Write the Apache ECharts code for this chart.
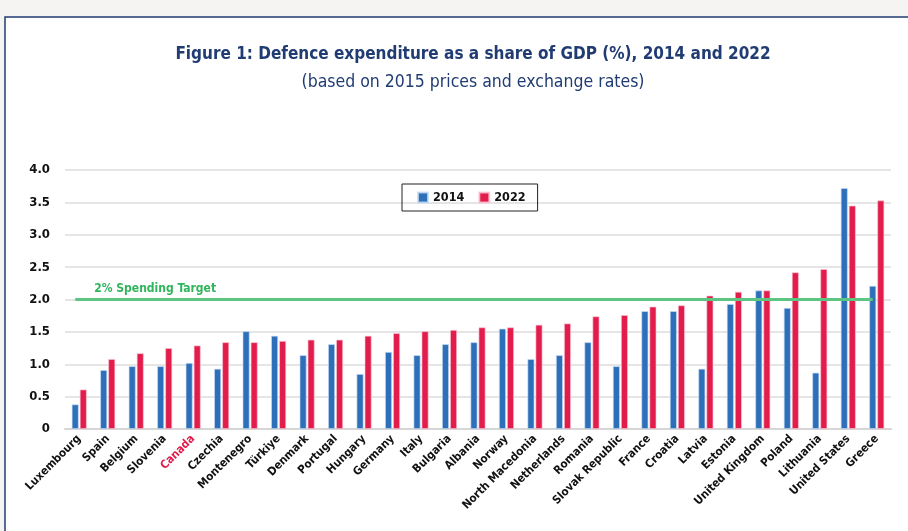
<!DOCTYPE html>
<html>
<head>
<meta charset="utf-8">
<script src="https://cdn.jsdelivr.net/npm/echarts@6/dist/echarts.min.js"></script>
<style>
  html, body { margin: 0; padding: 0; background: #f6f3f3; }
  #main { width: 908px; height: 531px; }
</style>
</head>
<body>
<div id="main"></div>
<script>
// countries, sorted by 2022 share
var countries = ['Luxembourg', 'Spain', 'Belgium', 'Slovenia', 'Canada', 'Czechia', 'Montenegro', 'Türkiye',
  'Denmark', 'Portugal', 'Hungary', 'Germany', 'Italy', 'Bulgaria', 'Albania', 'Norway', 'North Macedonia',
  'Netherlands', 'Romania', 'Slovak Republic', 'France', 'Croatia', 'Latvia', 'Estonia', 'United Kingdom',
  'Poland', 'Lithuania', 'United States', 'Greece'];
var share2014 = [0.38, 0.91, 0.97, 0.97, 1.02, 0.93, 1.51, 1.44, 1.14, 1.31, 0.85, 1.19, 1.14, 1.31, 1.34, 1.55,
  1.08, 1.14, 1.34, 0.97, 1.82, 1.82, 0.93, 1.93, 2.14, 1.87, 0.87, 3.72, 2.21];
var share2022 = [0.61, 1.08, 1.17, 1.25, 1.29, 1.34, 1.34, 1.36, 1.38, 1.38, 1.44, 1.48, 1.51, 1.53, 1.57, 1.57,
  1.61, 1.63, 1.74, 1.76, 1.89, 1.91, 2.06, 2.12, 2.14, 2.42, 2.47, 3.45, 3.53];
var targetValue = 2;
var highlight = 'Canada';

var FONT = '"DejaVu Sans Condensed", "Liberation Sans Narrow", sans-serif';
var BLUE = '#2d6fb8';
var RED = '#e21c4b';
var NAVY = '#203c72';

var myChart = echarts.init(document.getElementById('main'));
myChart.setOption({
  backgroundColor: '#f6f3f3',
  graphic: [
    // white framed panel
    { type: 'rect', shape: { x: 5, y: 17, width: 920, height: 530 },
      style: { fill: '#ffffff', stroke: NAVY, lineWidth: 1.5 }, z: -10 }
  ],
  title: [
    { text: 'Figure 1: Defence expenditure as a share of GDP (%), 2014 and 2022', left: 468, top: 41, textAlign: 'center',
      textStyle: { fontFamily: FONT, fontSize: 17, fontWeight: 'bold', color: NAVY } },
    { text: '(based on 2015 prices and exchange rates)', left: 468, top: 68, textAlign: 'center',
      textStyle: { fontFamily: FONT, fontSize: 17.5, fontWeight: 'normal', color: NAVY } }
  ],
  legend: {
    data: ['2014', '2022'],
    left: 402, top: 184,
    padding: [7, 12, 7, 15],
    itemWidth: 10, itemHeight: 10, itemGap: 14,
    borderColor: '#222', borderWidth: 1,
    icon: 'rect',
    textStyle: { fontFamily: FONT, fontSize: 12.5, fontWeight: 'bold', color: '#111' }
  },
  grid: { left: 65, right: 17, top: 170, bottom: 102 },
  xAxis: {
    type: 'category',
    data: countries,
    axisTick: { show: false },
    axisLine: { lineStyle: { color: '#d6d6d6', width: 2 } },
    axisLabel: {
      interval: 0, rotate: 45, margin: 8,
      fontFamily: FONT, fontSize: 11.5, fontWeight: 'bold', color: '#111',
      formatter: function (v) { return v === highlight ? '{hl|' + v + '}' : v; },
      rich: { hl: { color: RED, fontFamily: FONT, fontSize: 11.5, fontWeight: 'bold' } }
    }
  },
  yAxis: {
    type: 'value', min: 0, max: 4, interval: 0.5,
    axisLine: { show: false }, axisTick: { show: false },
    splitLine: { lineStyle: { color: '#dcdcdc', width: 1.5 } },
    axisLabel: {
      margin: 15, fontFamily: FONT, fontSize: 13, fontWeight: 'bold', color: '#111',
      formatter: function (v) { return v === 0 ? '0' : v.toFixed(1); }
    }
  },
  series: [
    {
      name: '2014', type: 'bar', data: share2014,
      barWidth: 7, barGap: '15%',
      itemStyle: { color: BLUE, borderColor: 'rgba(200,220,245,0.8)', borderWidth: 0.8 },
      markLine: {
        symbol: 'none', silent: true,
        lineStyle: { color: '#5cc581', width: 3, type: 'solid' },
        label: {
          show: true, position: 'insideStartTop', distance: [19, 5],
          formatter: '2% Spending Target',
          fontFamily: FONT, fontSize: 12, fontWeight: 'bold', color: '#2fb45a'
        },
        data: [[{ coord: [countries[0], targetValue] }, { coord: [countries[countries.length - 1], targetValue] }]]
      }
    },
    {
      name: '2022', type: 'bar', data: share2022,
      barWidth: 7,
      itemStyle: { color: RED, borderColor: 'rgba(250,200,215,0.8)', borderWidth: 0.8 }
    }
  ]
});
</script>
</body>
</html>
